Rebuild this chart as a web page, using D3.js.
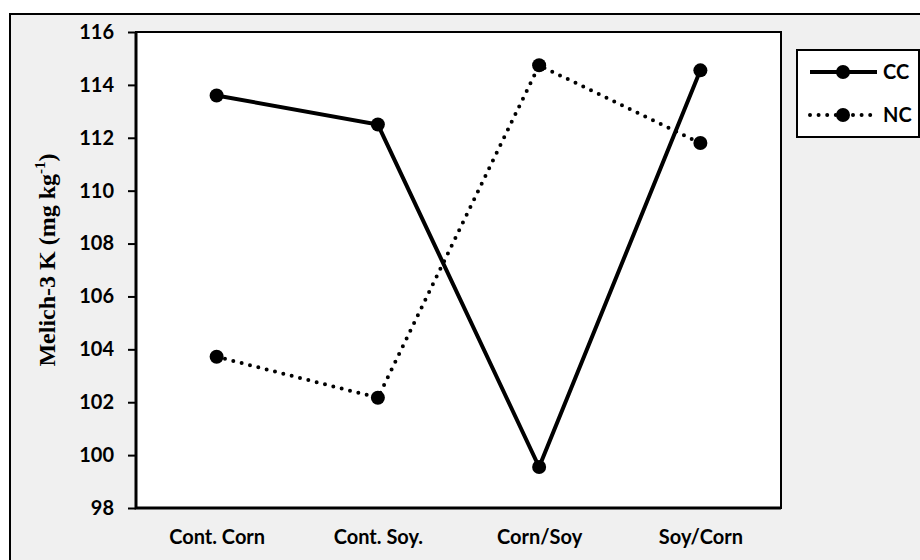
<!DOCTYPE html>
<html><head><meta charset="utf-8">
<script src="https://cdn.jsdelivr.net/npm/d3@7"></script>
<style>body{margin:0;background:#fff}svg{display:block}</style>
</head><body>
<svg id="c" width="920" height="560"></svg>
<script>
const categories = ["Cont. Corn", "Cont. Soy.", "Corn/Soy", "Soy/Corn"];
const ccValues = [113.6, 112.5, 99.55, 114.55];
const ncValues = [103.72, 102.17, 114.74, 111.8];
const yTicks = [98, 100, 102, 104, 106, 108, 110, 112, 114, 116];
const seriesNames = ["CC", "NC"];

const svg = d3.select("#c");
const tickFont = "Lato, 'Open Sans', sans-serif";
// outer frame
svg.append("rect").attr("x", 10).attr("y", 14).attr("width", 930).attr("height", 570)
  .attr("fill", "#f0f0f0").attr("stroke", "#000").attr("stroke-width", 2);

const L = 136, R = 781, T = 32, B = 508;
svg.append("rect").attr("x", L).attr("y", T).attr("width", R - L).attr("height", B - T)
  .attr("fill", "#fff");

const x = d3.scalePoint().domain(categories).range([L, R]).padding(0.5);
const y = d3.scaleLinear().domain([98, 116]).range([B, T]);

// y axis
const ya = svg.append("g").attr("transform", `translate(${L},0)`)
  .call(d3.axisLeft(y).tickValues(yTicks).tickSize(8).tickPadding(14).tickFormat(d3.format("d")));
ya.select(".domain").remove();
ya.selectAll("line").attr("stroke", "#000").attr("stroke-width", 2);
ya.selectAll("text").attr("font-family", tickFont).attr("font-weight", "bold")
  .attr("font-size", 20).attr("fill", "#000");

// x axis
const xa = svg.append("g").attr("transform", `translate(0,${B})`)
  .call(d3.axisBottom(x).tickSize(0).tickPadding(22));
xa.select(".domain").remove();
xa.selectAll("text").attr("font-family", tickFont).attr("font-weight", "bold")
  .attr("font-size", 20).attr("fill", "#000");

// plot border (left & bottom thicker)
svg.append("rect").attr("x", L).attr("y", T).attr("width", R - L).attr("height", B - T)
  .attr("fill", "none").attr("stroke", "#000").attr("stroke-width", 2);
svg.append("path").attr("d", `M${L},${T}V${B}H${R}`).attr("fill", "none")
  .attr("stroke", "#000").attr("stroke-width", 3);

// y label
const yl = svg.append("text").attr("transform", "translate(55,260) rotate(-90)")
  .attr("text-anchor", "middle").attr("font-family", "'Liberation Serif', 'Times New Roman', serif")
  .attr("font-weight", "bold").attr("font-size", 24).attr("fill", "#000");
yl.append("tspan").text("Melich-3 K (mg kg");
yl.append("tspan").attr("dy", -10).attr("font-size", 15).text("-1");
yl.append("tspan").attr("dy", 10).text(")");

const line = d3.line().x((d, i) => x(categories[i])).y(d => y(d));
const series = [
  {name: seriesNames[0], values: ccValues, dash: null, w: 4},
  {name: seriesNames[1], values: ncValues, dash: "0,8.6", w: 4}
];
series.forEach(s => {
  svg.append("path").attr("d", line(s.values)).attr("fill", "none").attr("stroke", "#000")
    .attr("stroke-width", s.w).attr("stroke-linecap", s.dash ? "round" : "butt")
    .attr("stroke-dasharray", s.dash);
  svg.selectAll(null).data(s.values).enter().append("circle")
    .attr("cx", (d, i) => x(categories[i])).attr("cy", d => y(d)).attr("r", 7).attr("fill", "#000");
});

// legend
svg.append("rect").attr("x", 797).attr("y", 50).attr("width", 122).attr("height", 87)
  .attr("fill", "#fff").attr("stroke", "#000").attr("stroke-width", 2);
series.forEach((s, i) => {
  const ly = 72 + i * 43;
  svg.append("line").attr("x1", 810).attr("x2", 877).attr("y1", ly).attr("y2", ly)
    .attr("stroke", "#000").attr("stroke-width", s.w).attr("stroke-linecap", s.dash ? "round" : "butt")
    .attr("stroke-dasharray", s.dash);
  svg.append("circle").attr("cx", 843).attr("cy", ly).attr("r", 7).attr("fill", "#000");
  svg.append("text").attr("x", 883).attr("y", ly + 7).attr("font-family", tickFont)
    .attr("font-weight", "bold").attr("font-size", 20).attr("fill", "#000").text(s.name);
});
</script>
</body></html>
